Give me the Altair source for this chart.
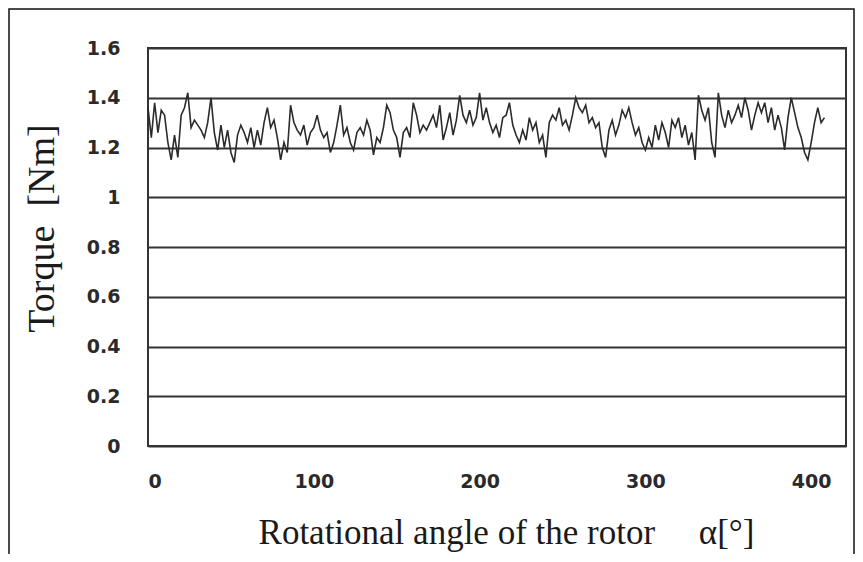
import altair as alt
import pandas as pd

# torque, one value every 2 degrees from 0 to 408
torque = [
    1.36, 1.24, 1.38, 1.26, 1.35,
    1.33, 1.22, 1.15, 1.25, 1.16,
    1.33, 1.36, 1.42, 1.28, 1.31,
    1.29, 1.27, 1.24, 1.30, 1.40,
    1.26, 1.19, 1.29, 1.20, 1.27,
    1.18, 1.14, 1.25, 1.29, 1.26,
    1.22, 1.28, 1.20, 1.27, 1.21,
    1.30, 1.36, 1.28, 1.31, 1.24,
    1.15, 1.22, 1.18, 1.37, 1.30,
    1.27, 1.25, 1.29, 1.21, 1.26,
    1.28, 1.33, 1.27, 1.24, 1.26,
    1.18, 1.22, 1.29, 1.37, 1.25,
    1.28, 1.22, 1.19, 1.26, 1.28,
    1.25, 1.31, 1.27, 1.17, 1.24,
    1.22, 1.28, 1.37, 1.34, 1.27,
    1.24, 1.16, 1.26, 1.28, 1.24,
    1.38, 1.33, 1.26, 1.29, 1.27,
    1.30, 1.33, 1.28, 1.37, 1.23,
    1.28, 1.34, 1.25, 1.31, 1.41,
    1.33, 1.30, 1.35, 1.29, 1.32,
    1.42, 1.31, 1.36, 1.30, 1.26,
    1.29, 1.24, 1.32, 1.33, 1.38,
    1.29, 1.25, 1.22, 1.27, 1.23,
    1.32, 1.27, 1.30, 1.22, 1.25,
    1.16, 1.30, 1.33, 1.31, 1.36,
    1.29, 1.31, 1.27, 1.33, 1.40,
    1.36, 1.34, 1.37, 1.30, 1.32,
    1.28, 1.30, 1.20, 1.16, 1.27,
    1.31, 1.25, 1.29, 1.35, 1.32,
    1.36, 1.30, 1.25, 1.28, 1.22,
    1.19, 1.24, 1.20, 1.29, 1.23,
    1.30, 1.26, 1.20, 1.31, 1.28,
    1.32, 1.24, 1.29, 1.21, 1.26,
    1.15, 1.41, 1.35, 1.31, 1.36,
    1.22, 1.16, 1.42, 1.33, 1.28,
    1.35, 1.30, 1.33, 1.37, 1.32,
    1.40, 1.35, 1.27, 1.33, 1.38,
    1.34, 1.38, 1.30, 1.36, 1.27,
    1.33, 1.28, 1.19, 1.32, 1.40,
    1.34, 1.28, 1.24, 1.18, 1.15,
    1.22, 1.30, 1.36, 1.30, 1.32,
]
angle = list(range(0, 2 * len(torque), 2))

x_ticks = [0, 100, 200, 300, 400]
y_ticks = [0, 0.2, 0.4, 0.6, 0.8, 1.0, 1.2, 1.4, 1.6]

df = pd.DataFrame({"angle": angle, "torque": torque})

label_font = "DejaVu Sans"
title_font = "Liberation Serif"

line = alt.Chart(df).mark_line(color="#2b2b2b", strokeWidth=1.6).encode(
    x=alt.X(
        "angle:Q",
        scale=alt.Scale(domain=[0, 421], nice=False, zero=False),
        axis=alt.Axis(
            values=x_ticks,
            grid=False,
            ticks=False,
            domain=False,
            labelFont=label_font,
            labelFontSize=19,
            labelFontWeight="bold",
            labelColor="#2a2a2a",
            labelPadding=26,
            title="Rotational angle of the rotor\u00a0\u00a0\u00a0\u00a0\u00a0\u03b1[\u00b0]",
            titleFont=title_font,
            titleFontSize=35,
            titleFontWeight="normal",
            titleColor="#1a1a1a",
            titleX=358,
            titleY=86,
            titleBaseline="middle",
            titleAlign="center",
        ),
    ),
    y=alt.Y(
        "torque:Q",
        scale=alt.Scale(domain=[0, 1.6], nice=False),
        axis=alt.Axis(
            values=y_ticks,
            labelExpr="format(datum.value, '~g')",
            grid=True,
            gridColor="#333333",
            gridWidth=2,
            gridOpacity=1,
            ticks=False,
            domain=False,
            labelFont=label_font,
            labelFontSize=19,
            labelFontWeight="bold",
            labelColor="#2a2a2a",
            labelPadding=28,
            title="Torque\u00a0\u00a0[Nm]",
            titleFont=title_font,
            titleFontSize=38,
            titleFontWeight="normal",
            titleColor="#1a1a1a",
            titleX=-106,
            titleY=180,
            titleAngle=270,
            titleBaseline="middle",
            titleAlign="center",
        ),
    ),
)

frame = alt.Chart(pd.DataFrame({"f": [0]})).mark_rect(
    fill=None, stroke="#111111", strokeWidth=1.5
).encode(
    x=alt.value(-139),
    x2=alt.value(706),
    y=alt.value(-39),
    y2=alt.value(700),
)

chart = (
    alt.layer(line, frame)
    .properties(
        width=698,
        height=398,
        autosize=alt.AutoSizeParams(type="none"),
        padding={"left": 140, "top": 40, "right": 9, "bottom": 108},
        background="white",
    )
    .configure_view(stroke="#333333", strokeWidth=2)
)

chart.save("out.html", embed_options={"renderer": "svg", "actions": False})
